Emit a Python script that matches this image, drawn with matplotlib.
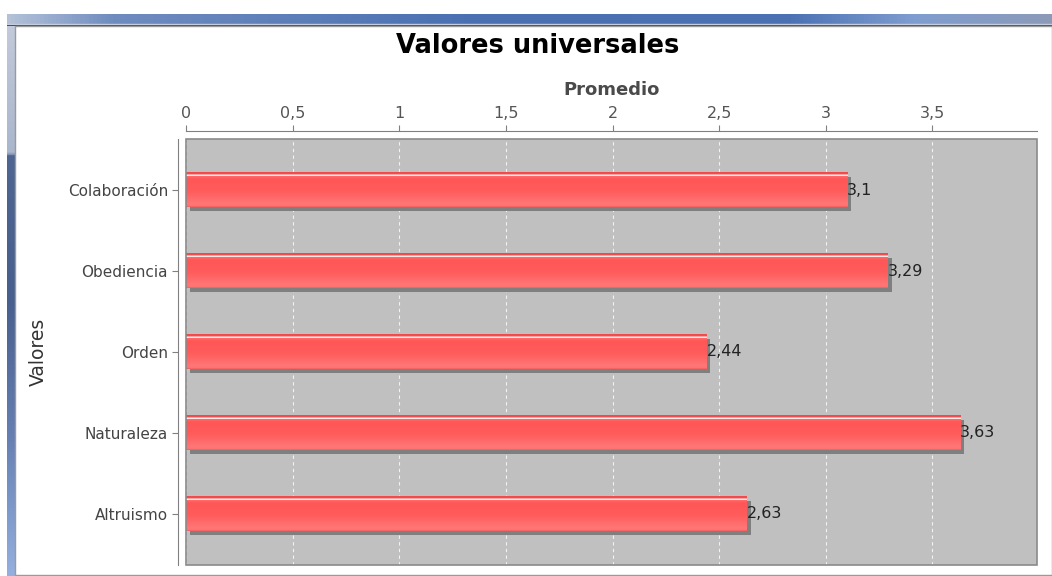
import numpy as np
import matplotlib
matplotlib.use("Agg")
import matplotlib.pyplot as plt
from matplotlib.colors import LinearSegmentedColormap
from matplotlib.patches import Rectangle
from matplotlib.ticker import FuncFormatter, MultipleLocator
import matplotlib.transforms as mtransforms

# data
categorias = ["Colaboración", "Obediencia", "Orden", "Naturaleza", "Altruismo"]
promedios = [3.10, 3.29, 2.44, 3.63, 2.63]
etiquetas = ["3,1", "3,29", "2,44", "3,63", "2,63"]

W, H = 1052, 576
fig = plt.figure(figsize=(W / 100, H / 100), dpi=100)
fig.patch.set_facecolor("white")

# window frame bits (top title bar + left border)
top_bar = fig.add_axes([7 / W, 1 - 26 / H, 1 - 7 / W, 12 / H])
grad = np.linspace(0, 1, 256).reshape(1, -1)
bar_cmap = LinearSegmentedColormap.from_list(
    "winbar", [(0, "#b4c2d8"), (0.1, "#6f8cbf"), (0.45, "#4a70b2"),
               (0.75, "#4c72b4"), (0.87, "#7f9dcf"), (1, "#8c9ab8")])
top_bar.imshow(grad, aspect="auto", cmap=bar_cmap, extent=[0, 1, 0, 1])
top_bar.axhline(0.2, color="#c4cede", lw=1)
top_bar.axhline(0.04, color="#3a4660", lw=1.3)
top_bar.axis("off")

left_bar = fig.add_axes([7 / W, 0, 8 / W, 1 - 26 / H])
vgrad = np.linspace(0, 1, 256).reshape(-1, 1)
side_cmap = LinearSegmentedColormap.from_list(
    "side", [(0, "#c2cadb"), (0.23, "#a9b6cc"), (0.235, "#4f6592"),
             (0.5, "#48608e"), (0.75, "#6680b4"), (1, "#93b0e0")])
left_bar.imshow(vgrad, aspect="auto", cmap=side_cmap, extent=[0, 1, 0, 1])
left_bar.axis("off")
fig.add_artist(Rectangle((15 / W, 1 / H), 1 - 15 / W, 1 - 27 / H,
                         transform=fig.transFigure, fill=False,
                         edgecolor="#9a9a9a", lw=1))

# main plot
ax = fig.add_axes([186 / W, 11 / H, (1037 - 186) / W, (565 - 139) / H])
ax.set_facecolor("#c0c0c0")

pos = np.arange(len(categorias))
alto = 0.42

shadow = mtransforms.offset_copy(ax.transData, fig=fig, x=4, y=-4, units="dots")
ax.barh(pos, promedios, height=alto, color="#7f7f7f", transform=shadow, zorder=2)

red_cmap = LinearSegmentedColormap.from_list(
    "barra", [(0, "#f04a4a"), (0.065, "#f44e4e"), (0.075, "#ffe8e8"),
              (0.11, "#ffe8e8"), (0.12, "#ff6a6a"), (0.2, "#ff5656"),
              (0.55, "#ff5c5c"), (0.9, "#ff7676"), (0.97, "#ff7272"),
              (1, "#ee5c5c")])
for p, v in zip(pos, promedios):
    ax.imshow(vgrad, aspect="auto", cmap=red_cmap, interpolation="nearest",
              extent=[0, v, p + alto / 2, p - alto / 2], zorder=3)

for p, v, t in zip(pos, promedios, etiquetas):
    ax.text(v, p, t, va="center", ha="left", fontsize=11.5,
            color="#222222", zorder=4)

ax.set_xlim(0, 3.99)
ax.set_ylim(len(categorias) - 1 + 0.63, -0.63)
ax.set_yticks(pos)
ax.set_yticklabels(categorias)

ax.xaxis.tick_top()
ax.xaxis.set_label_position("top")
ax.xaxis.set_major_locator(MultipleLocator(0.5))
ax.xaxis.set_major_formatter(FuncFormatter(lambda x, _: f"{x:g}".replace(".", ",")))
ax.grid(axis="x", color="#f2f2f2", linestyle=(0, (3, 3)), linewidth=0.8)
ax.set_axisbelow(True)

for s in ["right", "bottom"]:
    ax.spines[s].set_visible(False)
for s in ["top", "left"]:
    ax.spines[s].set_position(("outward", 6))
    ax.spines[s].set_color("#808080")
ax.add_patch(Rectangle((0, 0), 1, 1, transform=ax.transAxes, fill=False,
                       edgecolor="#8a8a8a", lw=1.2, zorder=5, clip_on=False))

ax.tick_params(axis="x", colors="#808080", labelcolor="#555555",
               labelsize=11.5, length=4, pad=3)
ax.tick_params(axis="y", colors="#808080", labelcolor="#444444",
               labelsize=11, length=4, pad=3)

ax.set_xlabel("Promedio", fontsize=13, fontweight="bold", color="#4a4a4a", labelpad=8)
ax.set_ylabel("Valores", fontsize=13.5, color="#333333", labelpad=14)

fig.text(538 / W, 1 - 46 / H, "Valores universales", ha="center", va="center",
         fontsize=18.5, fontweight="bold", color="black")

fig.savefig("out.png", dpi=100)
